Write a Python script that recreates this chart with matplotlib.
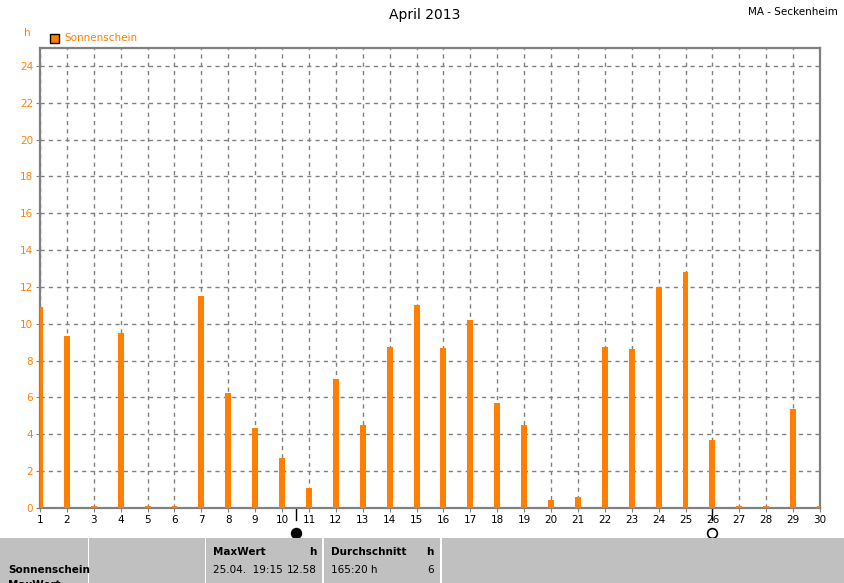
import matplotlib
matplotlib.use("Agg")
import matplotlib.pyplot as plt
from matplotlib.patches import Rectangle
import matplotlib.transforms as mtransforms

days = list(range(1, 31))
sunshine = [10.9, 9.34, 0.1, 9.48, 0.1, 0.1, 11.5, 6.22, 4.35, 2.72,
            1.09, 6.98, 4.48, 8.76, 11.04, 8.70, 10.23, 5.71, 4.48, 0.45,
            0.61, 8.76, 8.61, 12.0, 12.82, 3.70, 0.1, 0.1, 5.39, 0.1]
y_ticks = list(range(0, 25, 2))
new_moon_day = 10.5
full_moon_day = 26

orange = "#FF8000"
gray = "#808080"

plt.rcParams['font.family'] = ['DejaVu Sans']

fig = plt.figure(figsize=(8.45, 5.83), dpi=100)
ax = fig.add_axes([40 / 845, 75 / 583, 780 / 845, 460 / 583])

ax.bar(days, sunshine, width=0.22, color=orange, zorder=3)

ax.set_xlim(1, 30)
ax.set_ylim(0, 24.97)
ax.set_xticks(days)
ax.set_yticks(y_ticks)
ax.tick_params(axis='x', labelsize=7.5, length=3, color=gray, pad=2)
ax.tick_params(axis='y', labelsize=7.5, length=3, color=gray, labelcolor=orange, pad=2)
ax.grid(True, color=gray, linestyle=(0, (3, 3)), linewidth=1, zorder=0)
for s in ax.spines.values():
    s.set_color(gray)
    s.set_linewidth(1.6)

# moon phase markers below the axis
trans = mtransforms.blended_transform_factory(ax.transData, ax.transAxes)
for d, filled in [(new_moon_day, True), (full_moon_day, False)]:
    ax.plot([d, d], [0, -12 / 460], color='black', lw=1, transform=trans, clip_on=False)
    ax.plot(d, -25 / 460, marker='o', markersize=7,
            markerfacecolor='black' if filled else 'white',
            markeredgecolor='black', markeredgewidth=1.2,
            transform=trans, clip_on=False)

# titles
fig.text(425 / 845, 1 - 15 / 583, "April 2013", ha='center', va='center', fontsize=10)
fig.text(838 / 845, 1 - 12 / 583, "MA - Seckenheim", ha='right', va='center', fontsize=7.5)
fig.text(27 / 845, 1 - 33 / 583, "h", ha='center', va='center', fontsize=7.5, color=orange)

# legend
fig.patches.append(Rectangle((50 / 845, 1 - 43 / 583), 9 / 845, 9 / 583,
                             transform=fig.transFigure, facecolor=orange,
                             edgecolor='black', lw=1))
fig.text(64 / 845, 1 - 38 / 583, "Sonnenschein", ha='left', va='center',
         fontsize=7.5, color=orange)

# info table at the bottom
fig.patches.append(Rectangle((0, 0), 1, 45 / 583, transform=fig.transFigure,
                             facecolor='#C0C0C0', edgecolor='none'))
for xs in [88, 205, 322, 440]:
    fig.patches.append(Rectangle((xs / 845, 0), 1.5 / 845, 45 / 583,
                                 transform=fig.transFigure,
                                 facecolor='white', edgecolor='none'))


def tx(x, y, s, ha='left', bold=False):
    fig.text(x / 845, 1 - y / 583, s, ha=ha, va='center', fontsize=7.5,
             fontweight='bold' if bold else 'normal', color='black')


tx(8, 570, "Sonnenschein", bold=True)
tx(8, 585, "MaxWert", bold=True)
tx(213, 552, "MaxWert", bold=True)
tx(317, 552, "h", ha='right', bold=True)
tx(213, 570, "25.04.  19:15")
tx(317, 570, "12.58", ha='right')
tx(331, 552, "Durchschnitt", bold=True)
tx(434, 552, "h", ha='right', bold=True)
tx(331, 570, "165:20 h")
tx(434, 570, "6", ha='right')

fig.savefig("out.png", dpi=100)
